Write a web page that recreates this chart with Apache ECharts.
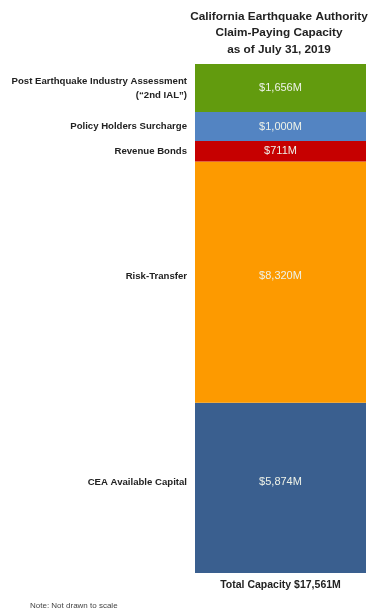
<!DOCTYPE html>
<html>
<head>
<meta charset="utf-8">
<style>
  html, body { margin: 0; padding: 0; background: #fff; }
  #main { width: 369px; height: 615px; }
</style>
<script src="https://cdn.jsdelivr.net/npm/echarts@6/dist/echarts.min.js"></script>
</head>
<body>
<div id="main"></div>
<script>
  // layers, bottom to top
  var layerNames = ['CEA Available Capital', 'Risk-Transfer', 'Revenue Bonds', 'Policy Holders Surcharge', 'Post Earthquake Industry Assessment\n(\u201c2nd IAL\u201d)'];
  var layerValues = [5874, 8320, 711, 1000, 1656];
  var layerColors = ['#3a5f8f', '#fd9a00', '#c60000', '#5384c2', '#629b0e'];
  var categories = ['Total Capacity $17,561M'];

  // the two tall blocks have their text sitting a little above centre
  var labelShift = [-6, -6, 0, 0, 0];

  var myChart = echarts.init(document.getElementById('main'));

  var series = [];
  layerValues.forEach(function (v, i) {
    // coloured block with the value inside
    series.push({
      name: layerNames[i],
      type: 'bar',
      stack: 'cap',
      xAxisIndex: 0,
      barWidth: '100%',
      data: [v],
      itemStyle: { color: layerColors[i] },
      label: {
        show: true,
        position: 'inside',
        offset: [0, labelShift[i]],
        color: '#eef2e8',
        fontSize: 11,
        fontFamily: 'Liberation Sans',
        formatter: function (p) {
          return '$' + p.value.toLocaleString('en-US') + 'M';
        }
      },
      silent: true
    });
    // invisible twin that carries the name on the left
    series.push({
      name: layerNames[i] + ' ',
      type: 'bar',
      stack: 'names',
      xAxisIndex: 1,
      barWidth: '100%',
      data: [v],
      itemStyle: { color: 'rgba(0,0,0,0)' },
      label: {
        show: true,
        position: 'left',
        distance: 8,
        offset: [0, labelShift[i]],
        align: 'right',
        color: '#222',
        fontSize: 9.6,
        fontWeight: 'bold',
        fontFamily: 'Liberation Sans',
        lineHeight: 14,
        formatter: function () { return layerNames[i]; }
      },
      silent: true
    });
  });

  myChart.setOption({
    animation: false,
    title: {
      text: 'California Earthquake Authority\nClaim-Paying Capacity\nas of July 31, 2019',
      left: 274,
      top: 3,
      textAlign: 'center',
      textStyle: {
        fontSize: 11.8,
        fontWeight: 'bold',
        fontFamily: 'Liberation Sans',
        color: '#222',
        lineHeight: 16.5
      }
    },
    graphic: [{
      type: 'text',
      left: 30,
      top: 602,
      style: {
        text: 'Note: Not drawn to scale',
        fontSize: 8,
        fontFamily: 'Liberation Sans',
        fill: '#444'
      }
    }],
    grid: { left: 195, right: 3, top: 64, bottom: 42 },
    xAxis: [{
      type: 'category',
      data: categories,
      axisLine: { show: false },
      axisTick: { show: false },
      axisLabel: {
        margin: 7,
        color: '#222',
        fontSize: 10.5,
        fontWeight: 'bold',
        fontFamily: 'Liberation Sans'
      }
    }, {
      type: 'category',
      data: categories,
      show: false
    }],
    yAxis: {
      type: 'value',
      min: 0,
      max: 17561,
      show: false,
      splitLine: { show: false }
    },
    series: series
  });
</script>
</body>
</html>
